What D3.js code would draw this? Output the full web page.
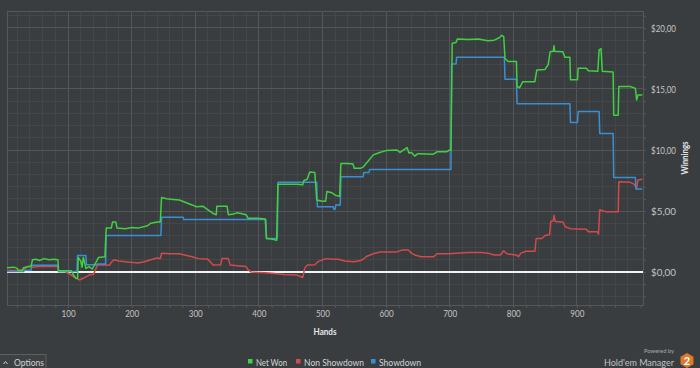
<!DOCTYPE html>
<html><head><meta charset="utf-8">
<script src="https://cdn.jsdelivr.net/npm/d3@7/dist/d3.min.js"></script>
<style>
html,body{margin:0;padding:0;background:#3a3d40;}
svg{display:block;font-family:Lato,"Open Sans",sans-serif;}
</style></head>
<body>
<svg id="chart" width="700" height="368"></svg>
<script>
// ---- data: [hand, dollars] ----
const netWon = [[4,0.35],[15,0.4],[20,0.3],[22,0.1],[28,0.1],[30,0.35],[38,0.45],[42,0.5],[44,1.0],[50,1.05],[55,0.95],[62,1.1],[70,1.0],[78,1.05],[84,1.0],[85,0.1],[105,0.1],[108,-0.2],[112,-0.5],[115,-0.5],[116,1.2],[120,0.9],[122,0.4],[124,1.2],[128,0.3],[133,0.45],[138,0.25],[145,0.9],[148,1.2],[158,1.25],[160,3.6],[168,3.6],[170,4.1],[175,4.1],[177,3.6],[190,3.55],[200,3.65],[210,3.6],[225,3.8],[230,4.0],[240,4.1],[245,4.1],[247,6.1],[255,6.0],[265,5.95],[275,5.9],[285,5.7],[295,5.5],[302,5.35],[312,5.4],[320,5.1],[328,4.8],[333,4.7],[334,5.4],[350,5.4],[352,4.7],[360,4.75],[365,4.85],[372,4.8],[380,4.7],[383,4.4],[398,4.4],[410,4.35],[412,2.75],[420,2.7],[428,2.6],[430,7.2],[445,7.2],[460,7.2],[469,7.15],[471,7.5],[476,7.6],[480,8.2],[488,8.15],[491,5.9],[500,5.8],[505,5.8],[507,6.6],[515,6.5],[520,6.3],[527,6.2],[529,8.9],[540,8.9],[548,8.85],[550,8.5],[560,8.5],[564,8.6],[568,8.85],[572,9.1],[580,9.6],[590,9.8],[600,9.95],[617,10.0],[622,9.8],[633,10.2],[636,9.75],[640,9.8],[645,9.5],[650,9.7],[653,9.7],[674,9.65],[680,9.85],[695,9.85],[700,10.0],[702,10.0],[704,18.75],[710,18.8],[712,19.1],[730,19.05],[745,19.1],[760,18.95],[770,19.0],[778,19.2],[782,19.4],[785,19.3],[787,17.5],[792,17.25],[805,17.25],[806,15.2],[810,15.1],[815,15.6],[834,15.6],[837,16.55],[850,16.6],[855,17.0],[858,18.05],[863,18.1],[864,18.55],[865,18.1],[878,18.05],[881,17.6],[889,17.6],[890,15.75],[901,15.75],[902,16.7],[915,16.7],[918,16.5],[933,16.45],[935,18.2],[938,18.3],[940,16.45],[957,16.4],[958,12.85],[965,12.85],[966,15.2],[984,15.2],[992,15.05],[994,14.1],[996,14.5],[1003,14.5]];

const nonShowdown = [[4,0.1],[20,0.15],[30,0.2],[36,0.45],[44,0.4],[55,0.45],[70,0.45],[84,0.45],[85,0.05],[95,0.05],[100,-0.1],[105,-0.25],[112,-0.5],[118,-0.65],[122,-0.55],[128,-0.4],[135,-0.2],[140,-0.2],[146,0.55],[155,0.6],[165,0.55],[168,0.8],[172,1.0],[180,0.9],[190,0.85],[210,0.75],[220,0.85],[230,1.0],[240,1.15],[245,1.1],[247,1.55],[260,1.5],[275,1.5],[283,1.4],[295,1.25],[305,1.1],[320,1.05],[328,0.57],[340,0.6],[342,1.1],[352,1.1],[355,0.57],[370,0.5],[380,0.45],[383,0.2],[388,0.0],[410,-0.05],[420,-0.1],[440,-0.2],[460,-0.25],[469,-0.45],[472,0.3],[476,0.57],[488,0.6],[493,0.85],[500,1.0],[507,1.1],[515,1.05],[525,1.05],[535,0.9],[550,0.85],[560,0.95],[564,1.05],[570,1.3],[580,1.5],[590,1.65],[617,1.65],[625,1.8],[635,1.8],[640,1.55],[645,1.4],[655,1.25],[675,1.25],[680,1.5],[700,1.5],[710,1.55],[730,1.6],[750,1.6],[760,1.55],[770,1.4],[780,1.4],[785,1.75],[790,1.5],[805,1.4],[808,1.25],[812,1.55],[820,1.7],[834,1.7],[836,2.75],[845,2.75],[850,3.0],[857,3.05],[859,4.15],[863,4.2],[864,4.65],[866,4.15],[878,4.1],[882,3.7],[890,3.55],[915,3.5],[918,3.3],[932,3.3],[934,3.1],[936,5.1],[945,4.95],[965,4.95],[966,7.4],[984,7.35],[990,7.2],[994,6.85],[996,7.55],[1003,7.6]];

const showdown = [[4,0.05],[30,0.05],[32,0.15],[42,0.15],[43,0.55],[84,0.55],[85,0.05],[114,0.05],[115,1.35],[128,1.35],[129,0.6],[145,0.6],[146,0.65],[159,0.65],[160,3.0],[246,3.0],[247,4.5],[281,4.5],[282,4.3],[411,4.3],[412,2.75],[429,2.75],[430,7.35],[491,7.35],[492,5.35],[517,5.35],[518,5.15],[520,5.15],[521,5.5],[528,5.5],[529,7.8],[564,7.8],[565,8.15],[573,8.15],[574,8.4],[702,8.4],[703,17.05],[710,17.05],[711,17.6],[786,17.6],[787,15.8],[805,15.8],[806,13.8],[889,13.8],[890,12.25],[901,12.25],[902,13.15],[935,13.15],[936,11.35],[957,11.35],[958,7.75],[992,7.75],[993,6.8],[1003,6.8]];

const xTicks = [100,200,300,400,500,600,700,800,900];
const yTicks = [0,5,10,15,20];
const legendNames = ["Net Won","Non Showdown","Showdown"];
const xTitle = "Hands";
const yTitle = "Winnings";

// ---- drawing ----
const svg = d3.select("#chart");
const W = 700, H = 368;
const FONT = "Lato,'Open Sans',sans-serif";
const x = d3.scaleLinear().domain([4,1004]).range([7,643]);
const y = d3.scaleLinear().domain([-2.7,21.39]).range([305,11]);
const loc = d3.formatLocale({decimal:",",thousands:".",grouping:[3],currency:["$",""]});
const fmt = loc.format("$.2f");

svg.append("rect").attr("width",W).attr("height",H).attr("fill","#3a3d40");

const grid = svg.append("g");
grid.selectAll(".vmin").data(d3.range(20,1001,20).filter(d=>d%100!==0)).enter().append("line")
  .attr("x1",d=>x(d)).attr("x2",d=>x(d)).attr("y1",y.range()[1]).attr("y2",y.range()[0])
  .attr("stroke","#44474a").attr("stroke-width",1).attr("shape-rendering","crispEdges");
grid.selectAll(".hmin").data(d3.range(-2,22,1).filter(d=>d%5!==0)).enter().append("line")
  .attr("x1",7).attr("x2",643).attr("y1",d=>y(d)).attr("y2",d=>y(d))
  .attr("stroke","#44474a").attr("stroke-width",1).attr("shape-rendering","crispEdges");
grid.selectAll(".vmaj").data(xTicks).enter().append("line")
  .attr("x1",d=>x(d)).attr("x2",d=>x(d)).attr("y1",y.range()[1]).attr("y2",y.range()[0])
  .attr("stroke","#54575a").attr("stroke-width",1).attr("shape-rendering","crispEdges");
grid.selectAll(".hmaj").data(yTicks).enter().append("line")
  .attr("x1",7).attr("x2",643).attr("y1",d=>y(d)).attr("y2",d=>y(d))
  .attr("stroke","#54575a").attr("stroke-width",1).attr("shape-rendering","crispEdges");
svg.append("rect").attr("x",7).attr("y",11).attr("width",636).attr("height",294)
  .attr("fill","none").attr("stroke","#55585b").attr("shape-rendering","crispEdges");

const xMinor = d3.axisBottom(x).tickValues(d3.range(20,1001,20)).tickSize(3).tickFormat("");
const gxm = svg.append("g").attr("transform","translate(0,305)").call(xMinor);
gxm.select(".domain").remove();
gxm.selectAll("line").attr("stroke","#55585b");
const yMinor = d3.axisRight(y).tickValues(d3.range(-2,22,1)).tickSize(3).tickFormat("");
const gym = svg.append("g").attr("transform","translate(643,0)").call(yMinor);
gym.select(".domain").remove();
gym.selectAll("line").attr("stroke","#55585b");

const gx = svg.append("g").attr("transform","translate(0,305)")
  .call(d3.axisBottom(x).tickValues(xTicks).tickSize(0).tickPadding(5).tickFormat(d3.format("d")));
gx.select(".domain").remove();
gx.selectAll("text").attr("fill","#c4c4c4").attr("font-size","9.5px").attr("font-family",FONT)
  .attr("textLength",14).attr("lengthAdjust","spacingAndGlyphs");

const gy = svg.append("g").attr("transform","translate(643,0)")
  .call(d3.axisRight(y).tickValues(yTicks).tickSize(0).tickPadding(8).tickFormat(fmt));
gy.select(".domain").remove();
gy.selectAll("text").attr("fill","#c4c4c4").attr("font-size","9.5px").attr("font-family",FONT)
  .attr("textLength",25).attr("lengthAdjust","spacingAndGlyphs");

svg.append("text").attr("x",325).attr("y",335).attr("text-anchor","middle").attr("font-family",FONT)
  .attr("fill","#e6e6e6").attr("font-size","9.5px").attr("font-weight","bold")
  .attr("textLength",23).attr("lengthAdjust","spacingAndGlyphs").text(xTitle);
svg.append("text").attr("transform","translate(688,158) rotate(-90)").attr("text-anchor","middle").attr("font-family",FONT)
  .attr("fill","#e6e6e6").attr("font-size","9.5px").attr("font-weight","bold")
  .attr("textLength",33).attr("lengthAdjust","spacingAndGlyphs").text(yTitle);

svg.append("line").attr("x1",7).attr("x2",643).attr("y1",y(0)).attr("y2",y(0))
  .attr("stroke","#f2f2f2").attr("stroke-width",2);

const colors = ["#3fd13f","#d24a4a","#3a8fd3"];
const line = d3.line().x(d=>x(d[0])).y(d=>y(d[1]));
const series = [netWon, nonShowdown, showdown];
[1,2,0].forEach(i=>{
  svg.append("path").datum(series[i]).attr("d",line).attr("fill","none")
    .attr("stroke",colors[i]).attr("stroke-width",1.5).attr("stroke-linejoin","round");
});

// legend
const lg = svg.append("g").attr("font-size","10px").attr("fill","#d4d4d4").attr("font-family",FONT);
const lx = [248,296,371];
const lw = [31,60,42];
legendNames.forEach((n,i)=>{
  lg.append("rect").attr("x",lx[i]).attr("y",359).attr("width",4.5).attr("height",4.5).attr("fill",colors[i]);
  lg.append("text").attr("x",lx[i]+8).attr("y",365.5).attr("textLength",lw[i]).attr("lengthAdjust","spacingAndGlyphs").text(n);
});

// options button
const ob = svg.append("g");
ob.append("rect").attr("x",-1).attr("y",354.5).attr("width",47).attr("height",15)
  .attr("fill","#3e4144").attr("stroke","#5c5f62");
ob.append("path").attr("d","M3.5,364 L5.5,361.5 L7.5,364").attr("fill","none").attr("stroke","#cfcfcf").attr("stroke-width",1);
ob.append("text").attr("x",14).attr("y",366).attr("font-size","10px").attr("font-family",FONT).attr("fill","#d0d0d0")
  .attr("textLength",30).attr("lengthAdjust","spacingAndGlyphs").text("Options");

// logo
const lo = svg.append("g").attr("font-family",FONT);
lo.append("text").attr("x",674).attr("y",353).attr("text-anchor","end").attr("font-size","6px").attr("fill","#a8a8a8")
  .attr("textLength",30).attr("lengthAdjust","spacingAndGlyphs").text("Powered by");
lo.append("text").attr("x",604).attr("y",366).attr("font-size","9.5px").attr("fill","#c0c0c0")
  .attr("textLength",70).attr("lengthAdjust","spacingAndGlyphs").text("Hold'em Manager");
const hx=687, hy=360.5, hr=7.5;
lo.append("path").attr("d",d3.range(6).map(k=>{const a=Math.PI/3*k+Math.PI/6;return (k?"L":"M")+(hx+hr*Math.cos(a))+","+(hy+hr*Math.sin(a));}).join("")+"Z")
  .attr("fill","#e0782a");
lo.append("text").attr("x",hx).attr("y",hy+4).attr("text-anchor","middle").attr("font-size","11px").attr("font-weight","bold").attr("fill","#ffffff").text("2");
</script>
</body></html>
